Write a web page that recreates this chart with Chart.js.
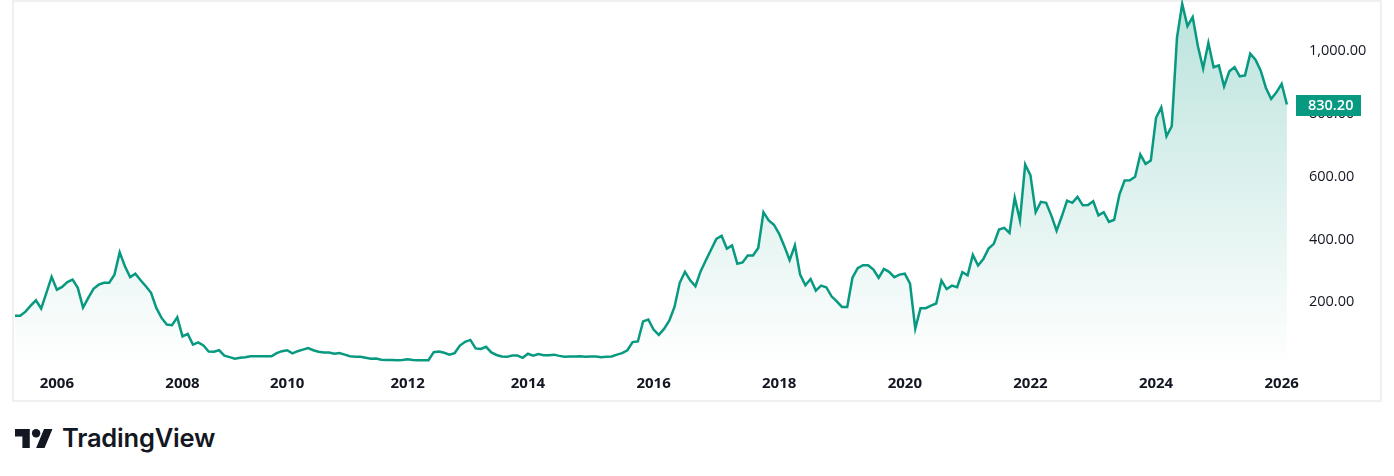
<!DOCTYPE html>
<html>
<head>
<meta charset="utf-8">
<script src="https://cdn.jsdelivr.net/npm/chart.js@4/dist/chart.umd.min.js"></script>
<style>
  html, body { margin: 0; padding: 0; background: #ffffff; width: 1394px; height: 476px; overflow: hidden; }
  #frame { position: absolute; left: 12px; top: 0px; width: 1370px; height: 402px; box-sizing: border-box; border: 2px solid #f0f0f0; }
  #wrap { position: absolute; left: 0; top: 0; width: 1394px; height: 400px; }
  #logo { position: absolute; left: 15px; top: 426px; height: 24px; display: flex; align-items: center; }
  #logo svg { display: block; margin-right: 9px; }
  #logo span { font-family: Inter, "Open Sans", sans-serif; font-weight: 600; font-size: 25.5px; color: #131722; letter-spacing: -0.2px; line-height: 24px; }
</style>
</head>
<body>
<div id="frame"></div>
<div id="wrap"><canvas id="c" width="1394" height="400"></canvas></div>
<div id="logo">
  <svg width="38" height="19" viewBox="0 4 36 18"><path fill="#131722" d="M14 22H7V11H0V4h14v18zM28 22h-8l7.5-18h8L28 22z"/><circle fill="#131722" cx="20" cy="8" r="4"/></svg>
  <span>TradingView</span>
</div>
<script>
// Monthly closing values (bar index order)
const values = [
  157,157,170,189,206,180,230,281,240,249,
  264,272,246,183,214,243,256,262,262,288,
  359,315,280,291,270,251,230,182,150,129,
  127,152,91,99,65,72,62,43,42,47,
  30,25,20,23,25,28,28,28,28,28,
  38,44,47,37,44,49,54,47,42,40,
  40,36,38,33,28,26,26,23,20,21,
  17,16,16,15,16,18,16,15,15,15,
  41,43,39,33,38,62,74,80,53,51,
  58,40,32,27,26,30,30,23,36,30,
  35,31,31,33,29,26,27,27,28,26,
  27,27,25,26,27,33,38,47,73,75,
  139,145,113,96,115,141,185,262,297,270,
  251,299,334,368,402,412,371,381,323,327,
  349,349,373,487,461,447,418,378,334,381,
  288,254,274,237,253,248,219,203,185,185,
  278,309,318,318,304,278,306,297,280,288,
  291,259,116,181,181,189,196,269,242,253,
  248,296,286,351,317,338,371,386,432,437,
  421,533,461,639,605,487,520,517,476,428,
  474,524,517,536,509,510,522,477,487,456,
  463,543,588,589,600,671,641,652,788,821,
  729,761,1043,1151,1080,1109,1016,945,1027,949,
  955,888,936,949,920,923,992,973,938,883,
  848,869,896,830.20
];
// Year tick labels and the bar index they sit on
const yearLabels = ['2006','2008','2010','2012','2014','2016','2018','2020','2022','2024','2026'];
const yearIndex  = [8, 32, 52, 75, 98, 122, 146, 170, 194, 218, 242];
// Price axis ticks
const priceTicks = [200, 400, 600, 800, 1000];

const GREEN = '#089981';
const points = values.map((v, i) => ({ x: i, y: v }));

const lastBadge = {
  id: 'lastBadge',
  afterDraw(chart) {
    const ctx = chart.ctx;
    const ys = chart.scales.y;
    const area = chart.chartArea;
    const last = values[values.length - 1];
    const py = ys.getPixelForValue(last);
    ctx.save();
    ctx.fillStyle = GREEN;
    ctx.fillRect(area.right, Math.round(py - 9.5), 65, 21);
    ctx.fillStyle = '#ffffff';
    ctx.font = '600 14.5px "Open Sans", sans-serif';
    ctx.textBaseline = 'middle';
    ctx.textAlign = 'left';
    ctx.fillText(last.toFixed(2), area.right + 12, py + 1.5);
    ctx.restore();
  }
};

const ctx = document.getElementById('c').getContext('2d');
new Chart(ctx, {
  type: 'line',
  data: {
    datasets: [{
      data: points,
      borderColor: GREEN,
      borderWidth: 2.5,
      pointRadius: 0,
      tension: 0,
      fill: 'start',
      backgroundColor: (c) => {
        const a = c.chart.chartArea;
        if (!a) return 'rgba(8,153,129,0.1)';
        const g = c.chart.ctx.createLinearGradient(0, a.top, 0, a.bottom);
        g.addColorStop(0, 'rgba(8,153,129,0.28)');
        g.addColorStop(1, 'rgba(8,153,129,0.0)');
        return g;
      }
    }]
  },
  options: {
    responsive: false,
    animation: false,
    events: [],
    layout: { padding: { left: 14, right: 0, top: 0, bottom: 0 } },
    plugins: { legend: { display: false }, tooltip: { enabled: false } },
    scales: {
      x: {
        type: 'linear',
        min: -0.19,
        max: 244.74,
        grid: { display: false, drawTicks: false },
        border: { display: false },
        afterBuildTicks: (s) => { s.ticks = yearIndex.map(v => ({ value: v })); },
        afterFit: (s) => { s.height = 35; s.paddingLeft = 0; s.paddingRight = 0; },
        ticks: {
          autoSkip: false,
          maxRotation: 0,
          padding: 10,
          color: '#131722',
          font: { family: '"Open Sans", sans-serif', size: 15, weight: 'bold' },
          callback: (v) => yearLabels[yearIndex.indexOf(v)]
        }
      },
      y: {
        position: 'right',
        min: 0,
        max: 1163.3,
        grid: { display: false, drawTicks: false },
        border: { display: false },
        afterBuildTicks: (s) => { s.ticks = priceTicks.map(v => ({ value: v })); },
        afterFit: (s) => { s.width = 98; s.paddingTop = 0; s.paddingBottom = 0; },
        ticks: {
          padding: 13,
          color: '#131722',
          font: { family: '"Open Sans", sans-serif', size: 14.5 },
          callback: (v) => v.toLocaleString('en-US', { minimumFractionDigits: 2, maximumFractionDigits: 2 })
        }
      }
    }
  },
  plugins: [lastBadge]
});
</script>
</body>
</html>
